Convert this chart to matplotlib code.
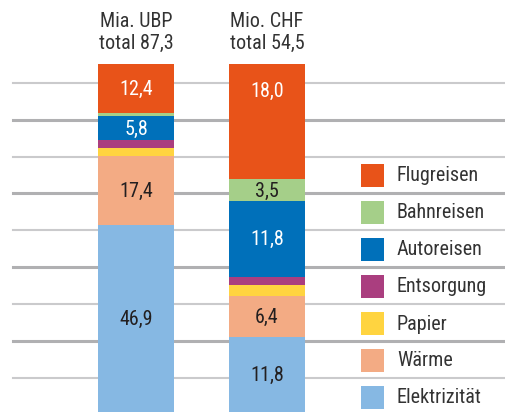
import matplotlib
matplotlib.use("Agg")
import matplotlib.pyplot as plt
from matplotlib.patches import Rectangle
from matplotlib import font_manager as fm
import numpy as np

available = {f.name for f in fm.fontManager.ttflist}
condensed = [f.name for f in fm.fontManager.ttflist
             if ('Narrow' in f.name or 'Condensed' in f.name)]
chosen = None
for cand in ['Liberation Sans Narrow', 'Roboto Condensed', 'DejaVu Sans Condensed',
             'Open Sans Condensed'] + sorted(set(condensed)):
    if cand in available:
        chosen = cand
        break
if chosen is None:
    chosen = 'Roboto'
# condensed widths stored with stretch in some families
cond_stretch = chosen in ('DejaVu Sans', 'Roboto')
plt.rcParams['font.family'] = [chosen, 'DejaVu Sans']

categories = ["Elektrizität", "Wärme", "Papier", "Entsorgung", "Autoreisen", "Bahnreisen", "Flugreisen"]
colors = ["#86B8E3", "#F3AB84", "#FFD440", "#AA3E7F", "#0070BA", "#A5CF89", "#E85319"]
ubp_values = [46.9, 17.4, 1.9, 2.1, 5.8, 0.8, 12.4]
chf_values = [11.8, 6.4, 1.6, 1.4, 11.8, 3.5, 18.0]
bar_titles = ["Mia. UBP\ntotal 87,3", "Mio. CHF\ntotal 54,5"]
ubp_labels = ["46,9", "17,4", "", "", "5,8", "", "12,4"]
chf_labels = ["11,8", "6,4", "", "", "11,8", "3,5", "18,0"]
label_white = [False, False, False, False, True, False, True]

fs = 14.5 if 'Narrow' in chosen or 'Condensed' in chosen else 13

W, H = 506, 414
fig = plt.figure(figsize=(W / 100, H / 100), dpi=100)
ax = fig.add_axes([0, 0, 1, 1])
ymax = 100 * H / (H - 65)
ax.set_ylim(-0.3, ymax)
px_per_unit = 131.0
ax.set_xlim(-136 / px_per_unit, (W - 136) / px_per_unit)
ax.axis('off')

grid_rows = [84, 121, 158, 194, 231, 268, 305, 342, 379]
for i, r in enumerate(grid_rows):
    thick = i % 2 == 1
    fig.add_artist(plt.Line2D([13 / W, 1], [1 - r / H, 1 - r / H],
                              color="#B0B0B2" if thick else "#CACACC",
                              lw=2.2 if thick else 1.5, zorder=0))

series = [ubp_values, chf_values]
labels = [ubp_labels, chf_labels]
width = 76 / px_per_unit
for xi, (vals, labs) in enumerate(zip(series, labels)):
    vals = np.array(vals, dtype=float)
    pct = vals / vals.sum() * 100
    bottoms = np.concatenate([[0], np.cumsum(pct)[:-1]])
    ax.bar(np.full(len(pct), xi), pct, bottom=bottoms, width=width,
           color=colors, zorder=3, linewidth=0)
    for j, (b, p, lab) in enumerate(zip(bottoms, pct, labs)):
        if not lab:
            continue
        y = b + p / 2
        if xi == 1 and j == len(pct) - 1:
            y = b + p - 7.7
        ax.text(xi, y, lab, ha='center', va='center', fontsize=fs,
                color='white' if label_white[j] else '#231F20', zorder=4)
    ax.text(xi, 100 + 3.5, bar_titles[xi], ha='center', va='bottom',
            fontsize=fs, color='#333333', linespacing=1.15)

leg_order = list(range(len(categories)))[::-1]
for k, j in enumerate(leg_order):
    cy = 176 + 37 * k
    fig.add_artist(Rectangle((361 / W, 1 - (cy + 11.5) / H), 23 / W, 23 / H,
                             transform=fig.transFigure, facecolor=colors[j],
                             edgecolor='none', zorder=5))
    fig.text(397 / W, 1 - cy / H, categories[j], ha='left', va='center',
             fontsize=fs, color='#333333')

fig.savefig("out.png", dpi=100)
